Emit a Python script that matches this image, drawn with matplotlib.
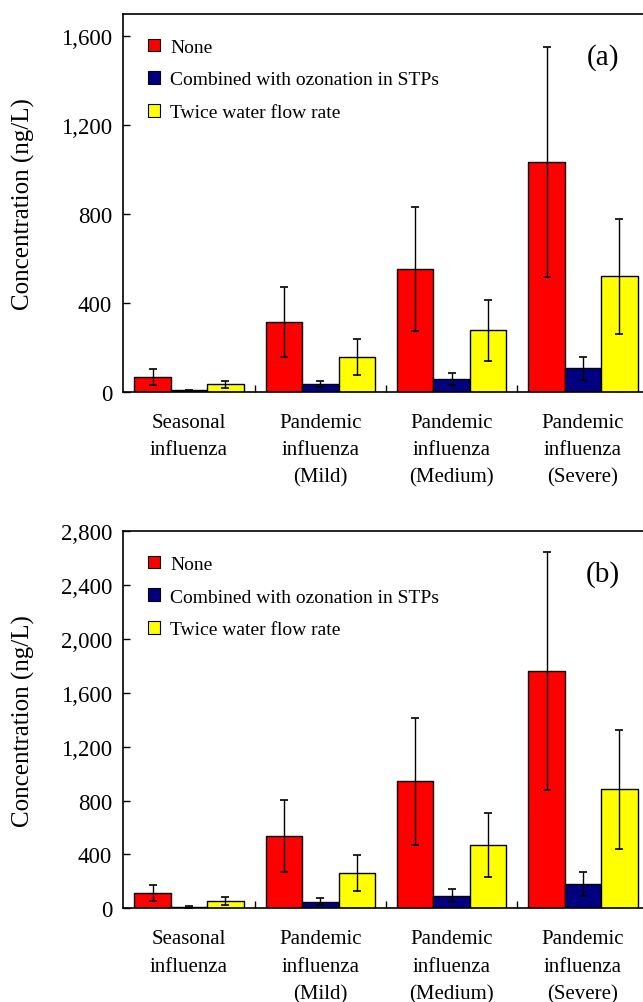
import matplotlib
matplotlib.use("Agg")
import matplotlib.pyplot as plt
from matplotlib.patches import Patch
from matplotlib.ticker import FuncFormatter, FixedLocator
import numpy as np

plt.rcParams['font.family'] = ['Liberation Serif', 'DejaVu Serif']

categories = ["Seasonal\ninfluenza", "Pandemic\ninfluenza\n(Mild)",
              "Pandemic\ninfluenza\n(Medium)", "Pandemic\ninfluenza\n(Severe)"]
series_names = ["None", "Combined with ozonation in STPs", "Twice water flow rate"]
colors = ["#ff0000", "#000080", "#ffff00"]

# panel (a)
a_none = [65, 315, 551, 1034]
a_none_err = [36, 157, 278, 518]
a_ozone = [6, 34, 57, 105]
a_ozone_err = [3, 15, 27, 53]
a_twice = [33, 157, 276, 519]
a_twice_err = [16, 80, 138, 259]

# panel (b)
b_none = [116, 534, 943, 1761]
b_none_err = [60, 268, 470, 882]
b_ozone = [12, 49, 94, 178]
b_ozone_err = [6, 26, 47, 90]
b_twice = [55, 263, 470, 883]
b_twice_err = [28, 132, 236, 440]

a_ticks = [0, 400, 800, 1200, 1600]
b_ticks = [0, 400, 800, 1200, 1600, 2000, 2400, 2800]

fig = plt.figure(figsize=(6.43, 10.03), dpi=100)
W = 0.817
ax1 = fig.add_axes([0.1918, 0.6085, W, 0.9853 - 0.6085])
ax2 = fig.add_axes([0.1918, 0.0934, W, 0.4696 - 0.0934])


def draw_panel(ax, vals, errs, ymax, ticks, tag):
    x = np.arange(len(categories))
    bw = 0.277
    for i, (v, e) in enumerate(zip(vals, errs)):
        ax.bar(x + (i - 1) * bw, v, width=bw, color=colors[i],
               edgecolor="black", linewidth=1.0, zorder=2)
        ax.errorbar(x + (i - 1) * bw, v, yerr=e, fmt="none", ecolor="black",
                    elinewidth=1.0, capsize=2.7, capthick=1.2, zorder=3)
    ax.set_xlim(-0.5, len(categories) - 0.5)
    ax.set_ylim(0, ymax)
    ax.set_yticks(ticks)
    ax.yaxis.set_major_formatter(FuncFormatter(lambda v, p: f"{int(v):,}"))
    ax.tick_params(axis="y", direction="in", length=5, width=1,
                   labelsize=16.5, pad=8)
    ax.set_xticks(x)
    ax.set_xticklabels(categories, fontsize=15, linespacing=1.6)
    ax.tick_params(axis="x", which="major", length=0, pad=15)
    ax.xaxis.set_minor_locator(FixedLocator(x[:-1] + 0.5))
    ax.tick_params(axis="x", which="minor", direction="in", length=5, width=1)
    for s in ax.spines.values():
        s.set_linewidth(1.2)
    ax.set_ylabel("Concentration (ng/L)", fontsize=18)
    ax.yaxis.set_label_coords(-0.168, 0.5)
    handles = [Patch(facecolor=c, edgecolor="black", linewidth=0.8) for c in colors]
    ax.legend(handles, series_names, loc="upper left", frameon=False,
              fontsize=14, handlelength=0.62, handleheight=0.62,
              handletextpad=0.5, labelspacing=0.8,
              bbox_to_anchor=(0.033, 0.955), borderaxespad=0)
    ax.text(0.913, 0.888, tag, transform=ax.transAxes, fontsize=21,
            ha="center", va="center")


draw_panel(ax1, [a_none, a_ozone, a_twice],
           [a_none_err, a_ozone_err, a_twice_err], 1700, a_ticks, "(a)")
draw_panel(ax2, [b_none, b_ozone, b_twice],
           [b_none_err, b_ozone_err, b_twice_err], 2800, b_ticks, "(b)")

fig.savefig("out.png", dpi=100)
